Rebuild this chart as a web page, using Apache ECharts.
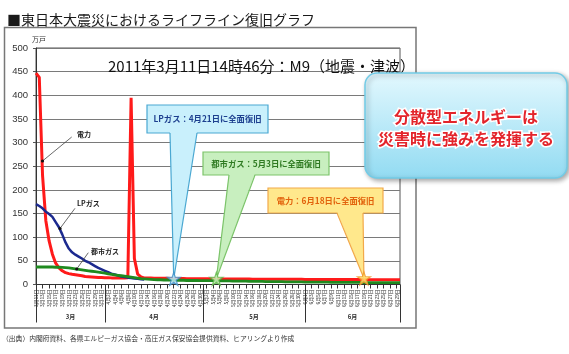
<!DOCTYPE html>
<html>
<head>
<meta charset="utf-8">
<script src="https://cdn.jsdelivr.net/npm/echarts@6/dist/echarts.min.js"></script>
<style>
html, body { margin: 0; padding: 0; background: #fff; }
#chart { width: 569px; height: 354px; }
</style>
</head>
<body>
<div id="chart"></div>
<script>
// 日付 (2011/3/11 〜 6/30)
const months = [3, 4, 5, 6];
const monthFirstDay = [11, 1, 1, 1];
const monthLastDay = [31, 30, 31, 30];
const monthNames = ['3月', '4月', '5月', '6月'];
const monthBorderIdx = [0, 21, 51, 82, 111];
const monthCenterIdx = [10.5, 36, 66.5, 96.5];

// 停電・供給停止戸数 (万戸)
const power = [
  447, 438, 230, 135, 92, 64, 45, 35, 29, 25,
  23, 21.5, 20.5, 19.5, 18.5, 17, 16.5, 16, 15.5, 15,
  15, 14.5, 14.5, 14, 14, 14, 13.5, 13.5, 14, 395,
  55, 22, 16, 14,
  13.5, 13.5, 13, 13, 13, 13, 13, 12.5, 12.5, 12.5,
  12.5, 12.5, 12, 12, 12, 12, 12, 12, 12, 12,
  12, 11.5, 11.5, 11.5, 11.5, 11.5, 11.5, 11.5, 11.5, 11.5,
  11.5, 11.5, 11, 11, 11, 11, 11, 11, 11, 11,
  11, 11, 11, 11, 11, 11, 11, 11, 10.5, 10.5,
  10.5, 10.5, 10.5, 10.5, 10.5, 10.5, 10.5, 10.5, 10.5, 10.5,
  10.5, 10.5, 10.5, 10.5, 10.5, 10.5, 10, 10, 10, 10,
  10, 10, 10, 10, 10, 10, 10, 10
];
const lpGas = [
  170, 166, 161, 154, 149, 143, 132, 121, 106, 89,
  76, 68, 63, 59, 55, 50, 47, 43, 39, 35,
  32, 29, 26, 23, 21, 19, 17, 16, 14.5, 13.5,
  12.5, 12, 11, 10.5
];
const cityGas = [
  37, 37, 37, 37, 37, 37, 36.5, 36.5, 36, 35.5,
  35, 34, 33, 32, 31, 30, 29, 28, 27, 26,
  25, 24, 22.5, 21.5, 20.5, 19.5, 18.5, 17.5, 16.5, 15.5,
  14.5, 13.5, 12.5, 12, 11.5, 11, 10.5, 10,
  10, 9.5, 9.5, 9.5, 9, 9, 9, 9, 8.5, 8.5,
  8.5, 8.5, 8, 8, 8, 8, 8, 7.5, 7.5, 7.5,
  7.5, 7.5, 7, 7, 7, 7, 7, 6.5, 6.5, 6.5,
  6.5, 6.5, 6, 6, 6, 6, 6, 6, 5.5, 5.5,
  5.5, 5.5, 5.5, 5.5, 5, 5, 5, 5, 5, 5,
  5, 5, 4.5, 4.5, 4.5, 4.5, 4.5, 4.5, 4.5, 4.5,
  4.5, 4.5, 4, 4, 4, 4, 4, 4, 4, 4,
  4, 4, 4, 4
];

// 全面復旧の時点
const restoreText = ['LPガス：4月21日に全面復旧', '都市ガス：5月3日に全面復旧', '電力：6月18日に全面復旧'];
const restoreIdx = [42, 55, 100];
const restoreVal = [12, 12, 13];

const days = [];
months.forEach((m, k) => {
  for (let d = monthFirstDay[k]; d <= monthLastDay[k]; d++) days.push(m + '月' + d + '日');
});

const FONT = '"Noto Sans CJK JP", sans-serif';
const STAR = 'path://M50,2 L61,36 L97,36 L68,57 L79,92 L50,71 L21,92 L32,57 L3,36 L39,36 Z';

// 吹き出しのスタイル (LP, 都市ガス, 電力)
const callouts = [
  { box: [147, 105, 121, 28], tail: [170, 197], fill: '#c9f0fc', stroke: '#4aa8d2', color: '#1d3f8f', starFill: '#c4ecfb', starStroke: '#3b8cc6' },
  { box: [203, 152, 126, 23], tail: [229, 255], fill: '#c8efbf', stroke: '#7cc46a', color: '#2f7a22', starFill: '#cdf2bd', starStroke: '#5bb746' },
  { box: [268, 188, 115, 25], tail: [337, 363], fill: '#ffe88c', stroke: '#f2a94a', color: '#e2620c', starFill: '#ffe56a', starStroke: '#f0962a' }
];

const chart = echarts.init(document.getElementById('chart'));

chart.setOption({
  animation: false,
  textStyle: { fontFamily: FONT },
  title: [
    { text: '■東日本大震災におけるライフライン復旧グラフ', left: 2, top: 8,
      textStyle: { fontSize: 14, fontWeight: 'normal', color: '#1a1a1a', fontFamily: FONT } },
    { text: '2011年3月11日14時46分：M9（地震・津波）', left: 103, top: 54,
      textStyle: { fontSize: 15, fontWeight: 'normal', color: '#111', fontFamily: FONT } }
  ],
  grid: { left: 36, right: 169, top: 48, bottom: 69.5, show: true, borderColor: '#555', borderWidth: 1 },
  xAxis: [
    {
      type: 'category', data: days, boundaryGap: false,
      axisLine: { lineStyle: { color: '#333' } },
      axisTick: { interval: 1, length: 4, lineStyle: { color: '#333' } },
      axisLabel: { interval: 1, rotate: 90, fontSize: 4.8, color: '#333', margin: 5 }
    },
    {
      type: 'value', min: 0, max: 111, position: 'bottom', offset: 0,
      axisLine: { show: false }, splitLine: { show: false },
      axisTick: { show: true, customValues: monthBorderIdx, length: 38, lineStyle: { color: '#333' } },
      axisLabel: {
        customValues: monthCenterIdx, margin: 29, fontSize: 6, fontWeight: 'bold', color: '#333',
        formatter: v => monthNames[monthCenterIdx.indexOf(v)]
      }
    }
  ],
  yAxis: {
    type: 'value', min: 0, max: 500, interval: 50,
    name: '万戸', nameGap: 5,
    nameTextStyle: { fontSize: 7, color: '#333', padding: [0, 0, 0, 6] },
    axisLine: { show: true, lineStyle: { color: '#333' } },
    axisTick: { show: true, length: 3, lineStyle: { color: '#555' } },
    axisLabel: { fontSize: 9.5, color: '#333', margin: 8, fontFamily: '"Liberation Sans Narrow", "Liberation Sans", sans-serif' },
    splitLine: { lineStyle: { color: '#7a7a7a', width: 1.2 } }
  },
  series: [
    { name: '電力', type: 'line', data: power, symbol: 'none', lineStyle: { color: '#ff1a1a', width: 3 }, z: 2 },
    { name: 'LPガス', type: 'line', data: lpGas, symbol: 'none', lineStyle: { color: '#1c2a8f', width: 2.5 }, z: 3 },
    { name: '都市ガス', type: 'line', data: cityGas, symbol: 'none', lineStyle: { color: '#1f8a1f', width: 2.8 }, z: 4 },
    {
      name: '全面復旧', type: 'scatter', symbol: STAR, symbolSize: 13, z: 20,
      data: restoreIdx.map((x, k) => ({
        value: [x, restoreVal[k]],
        itemStyle: { color: callouts[k].starFill, borderColor: callouts[k].starStroke, borderWidth: 1.2 }
      }))
    }
  ]
});

// 吹き出し・注記
const gfx = [];
gfx.push({ type: 'rect', z: 1, shape: { x: 4.5, y: 27.5, width: 411.5, height: 300.5 },
  style: { fill: null, stroke: '#777', lineWidth: 1.5 } });

callouts.forEach((c, k) => {
  const [sx, sy] = chart.convertToPixel({ seriesIndex: 3 }, [restoreIdx[k], restoreVal[k]]);
  const [bx, by, bw, bh] = c.box;
  const bottom = by + bh;
  gfx.push({ type: 'rect', z: 10, shape: { x: bx, y: by, width: bw, height: bh },
    style: { fill: c.fill, stroke: c.stroke, lineWidth: 1.2 } });
  gfx.push({ type: 'polygon', z: 11, shape: { points: [[c.tail[0], bottom - 1.5], [c.tail[1], bottom - 1.5], [sx, sy]] },
    style: { fill: c.fill } });
  gfx.push({ type: 'polyline', z: 12, shape: { points: [[c.tail[0], bottom], [sx, sy], [c.tail[1], bottom]] },
    style: { fill: null, stroke: c.stroke, lineWidth: 1.2 } });
  gfx.push({ type: 'text', z: 13, style: { text: restoreText[k], x: bx + bw / 2, y: by + bh / 2,
    align: 'center', verticalAlign: 'middle', fill: c.color, font: 'bold 8.3px ' + FONT } });
});

// 系列名の引き出し線
const leaders = [
  { text: '電力', from: [71.7, 137], to: [42.5, 161], tx: 77, ty: 134.5 },
  { text: 'LPガス', from: [75, 208.3], to: [60, 228.5], tx: 77, ty: 203 },
  { text: '都市ガス', from: [88.3, 252.7], to: [76.7, 269], tx: 91, ty: 251.5 }
];
leaders.forEach(l => {
  gfx.push({ type: 'line', z: 10, shape: { x1: l.from[0], y1: l.from[1], x2: l.to[0], y2: l.to[1] },
    style: { stroke: '#444', lineWidth: 0.8 } });
  gfx.push({ type: 'circle', z: 10, shape: { cx: l.to[0], cy: l.to[1], r: 1.6 }, style: { fill: '#111' } });
  gfx.push({ type: 'text', z: 10, style: { text: l.text, x: l.tx, y: l.ty, verticalAlign: 'middle',
    fill: '#222', font: 'bold 7px ' + FONT } });
});

// 右側のメッセージ
gfx.push({ type: 'rect', z: 30, shape: { x: 365, y: 73, width: 202, height: 105, r: 12 },
  style: {
    fill: { type: 'linear', x: 0, y: 0, x2: 0, y2: 1,
      colorStops: [{ offset: 0, color: '#e3f8fe' }, { offset: 1, color: '#92dbf2' }] },
    stroke: '#72cbe6', lineWidth: 1.5,
    shadowBlur: 5, shadowOffsetX: 2, shadowOffsetY: 2, shadowColor: 'rgba(0,0,0,0.35)'
  } });
['分散型エネルギーは', '災害時に強みを発揮する'].forEach((t, k) => {
  gfx.push({ type: 'text', z: 31, style: { text: t, x: 466, y: 117.3 + k * 22,
    align: 'center', verticalAlign: 'middle', fill: '#e3242b', stroke: '#ffffff', lineWidth: 3,
    font: 'bold 16px ' + FONT } });
});

gfx.push({ type: 'text', z: 10, style: {
  text: '（出典）内閣府資料、各県エルピーガス協会・高圧ガス保安協会提供資料、ヒアリングより作成',
  x: 2, y: 338, verticalAlign: 'middle', fill: '#333', font: '6.8px ' + FONT } });

chart.setOption({ graphic: gfx });
</script>
</body>
</html>
